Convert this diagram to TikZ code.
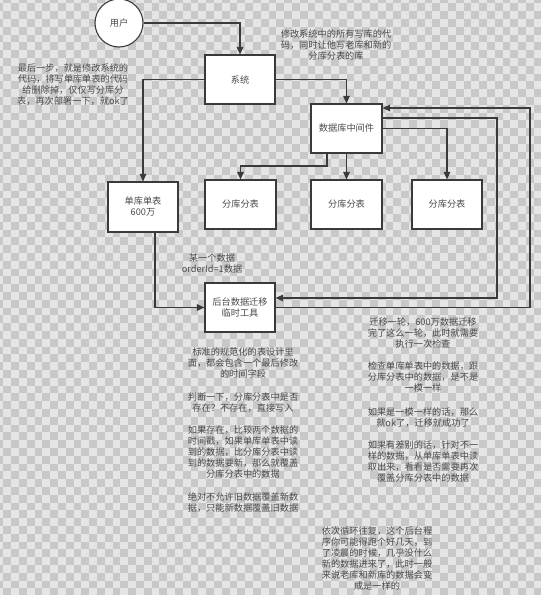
\documentclass[tikz,border=0pt]{standalone}
\usepackage{fontspec}
\setmainfont{Noto Sans CJK SC}
\usetikzlibrary{arrows.meta}
\definecolor{chklight}{HTML}{E5E5E5}
\definecolor{chkdark}{HTML}{C8C8C8}
\definecolor{ink}{HTML}{3A3A3A}
\definecolor{txt}{HTML}{4A4A4A}
\tikzset{
  box/.style={draw=ink, fill=white, line width=1.1pt, minimum width=70pt, minimum height=49pt, inner sep=0pt, font=\fontsize{9.2pt}{11pt}\selectfont, text=txt, align=center},
  userc/.style={circle, draw=ink, fill=white, line width=1.1pt, minimum size=48pt, inner sep=0pt, font=\fontsize{9.2pt}{11pt}\selectfont, text=txt},
  note/.style={font=\fontsize{9.2pt}{11pt}\selectfont, text=txt, align=center, inner sep=0pt},
  conn/.style={draw=ink, line width=1.1pt},
  arr/.style={conn, -{Triangle[length=7.5pt,width=6.5pt]}}
}
\begin{document}
\begin{tikzpicture}[x=1pt,y=-1pt]
\useasboundingbox (0,0) rectangle (541,595);
\begin{scope}
\clip (0,0) rectangle (541,595);
\fill[chklight] (0,0) rectangle (541,595);
\foreach \j in {0,...,77}{
  \pgfmathtruncatemacro{\off}{mod(\j+1,2)}
  \foreach \i in {0,...,35}{
    \pgfmathsetmacro{\xx}{-4.5+7.8*(2*\i+\off)}
    \pgfmathsetmacro{\yy}{-4.5+7.8*\j}
    \fill[chkdark] (\xx,\yy) rectangle ++(7.8,7.8);
  }
}
\end{scope}

% nodes
\node[userc] (user) at (119,23) {用户};
\node[box] (sys) at (240,79.5) {系统};
\node[box, minimum width=71pt] (mid) at (346.5,128.5) {数据库中间件};
\node[box, minimum height=50pt] (single) at (143,207) {单库单表\\600万};
\node[box, minimum width=71pt] (s1) at (240.5,204.5) {分库分表};
\node[box, minimum width=71pt] (s2) at (346.5,204.5) {分库分表};
\node[box] (s3) at (447,204.5) {分库分表};
\node[box] (tool) at (240,307.5) {后台数据迁移\\临时工具};

% helper coordinates
\coordinate (k1) at (327,166);
\coordinate (r1) at (497,118);
\coordinate (r2) at (497,298);
\coordinate (q1) at (530,307.5);
\coordinate (q2) at (530,108);
\coordinate (p1) at (155,307.5);

% connectors
\draw[arr] (user.east) -| (sys.north);
\draw[arr] (sys.west) -| (single.north);
\draw[arr] (sys.east) -| (mid.north);
\draw[arr] (mid.south -| k1) -- (k1) -| (s1.north);
\draw[arr] (mid.south) -- (s2.north);
\draw[arr] (mid.east) -| (s3.north);
\draw[arr] (mid.east |- r1) -- (r1) -- (r2) -- (tool.east |- r2);
\draw[arr] (tool.east) -- (q1) -- (q2) -- (mid.east |- q2);
\draw[arr] (single.south -| p1) -- (p1) -- (tool.west);

% notes
\node[note] (n1) at (73,85) {最后一步，就是修改系统的\\代码，将写单库单表的代码\\给删除掉，仅仅写分库分\\表，再次部署一下，就ok了};
\node[note] (n2) at (336,45.5) {修改系统中的所有写库的代\\码，同时让他写老库和新的\\分库分表的库};
\node[note] (n3) at (212,264) {某一个数据\\orderId=1数据};
\node[note] (n4) at (243,363) {标准的规范化的表设计里\\面，都会包含一个最后修改\\的时间字段};
\node[note] (n5) at (243,402.5) {判断一下，分库分表中是否\\存在？不存在，直接写入};
\node[note] (n6) at (243,451.5) {如果存在，比较两个数据的\\时间戳，如果单库单表中读\\到的数据，比分库分表中读\\到的数据要新，那么就覆盖\\分库分表中的数据};
\node[note] (n7) at (243,502.5) {绝对不允许旧数据覆盖新数\\据，只能新数据覆盖旧数据};
\node[note] (n8) at (423,333) {迁移一轮，600万数据迁移\\完了这么一轮，此时就需要\\执行一次检查};
\node[note] (n9) at (423,377) {检查单库单表中的数据，跟\\分库分表中的数据，是不是\\一模一样};
\node[note] (n10) at (423,417.5) {如果是一模一样的话，那么\\就ok了，迁移就成功了};
\node[note] (n11) at (423,461.5) {如果有差别的话，针对不一\\样的数据，从单库单表中读\\取出来，看看是否需要再次\\覆盖分库分表中的数据};
\node[note] (n12) at (377,558.5) {依次循环往复，这个后台程\\序你可能得跑个好几天，到\\了凌晨的时候，几乎没什么\\新的数据进来了，此时一般\\来说老库和新库的数据会变\\成是一样的};
\end{tikzpicture}
\end{document}
